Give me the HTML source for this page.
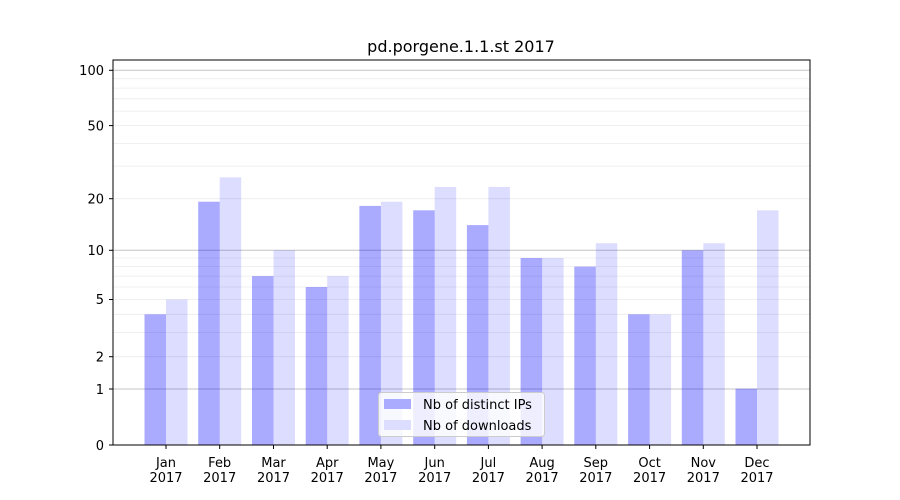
<!DOCTYPE html>
<html><head><meta charset="utf-8"><style>body{margin:0;background:#fff}svg{display:block}text{font-family:"DejaVu Sans","Liberation Sans",sans-serif;fill:#000}</style></head>
<body>
<svg width="900" height="500" xmlns="http://www.w3.org/2000/svg">
<rect width="900" height="500" fill="#fff"/>
<g stroke="#ebebeb" stroke-width="0.8">
<line x1="113" x2="810" y1="356.7" y2="356.7"/><line x1="113" x2="810" y1="332.4" y2="332.4"/><line x1="113" x2="810" y1="314.3" y2="314.3"/><line x1="113" x2="810" y1="299.5" y2="299.5"/><line x1="113" x2="810" y1="287" y2="287"/><line x1="113" x2="810" y1="276.1" y2="276.1"/><line x1="113" x2="810" y1="266.6" y2="266.6"/><line x1="113" x2="810" y1="258" y2="258"/>
<line x1="113" x2="810" y1="198.7" y2="198.7"/><line x1="113" x2="810" y1="166.1" y2="166.1"/><line x1="113" x2="810" y1="143.4" y2="143.4"/><line x1="113" x2="810" y1="125.6" y2="125.6"/><line x1="113" x2="810" y1="111.1" y2="111.1"/><line x1="113" x2="810" y1="98.8" y2="98.8"/><line x1="113" x2="810" y1="88.1" y2="88.1"/><line x1="113" x2="810" y1="78.7" y2="78.7"/>
</g>
<g stroke="#c4c4c4" stroke-width="1">
<line x1="113" x2="810" y1="389" y2="389"/><line x1="113" x2="810" y1="250.3" y2="250.3"/><line x1="113" x2="810" y1="70.3" y2="70.3"/>
</g>
<g fill="#0000ff" fill-opacity="0.333">
<rect x="144.5" y="314.3" width="21.5" height="130.7"/>
<rect x="198.2" y="201.7" width="21.5" height="243.3"/>
<rect x="252" y="276.1" width="21.5" height="168.9"/>
<rect x="305.7" y="287" width="21.5" height="158"/>
<rect x="359.4" y="205.9" width="21.5" height="239.1"/>
<rect x="413.2" y="210.3" width="21.5" height="234.7"/>
<rect x="466.9" y="225.1" width="21.5" height="219.9"/>
<rect x="520.6" y="258" width="21.5" height="187"/>
<rect x="574.3" y="266.6" width="21.5" height="178.4"/>
<rect x="628.1" y="314.3" width="21.5" height="130.7"/>
<rect x="681.8" y="250.3" width="21.5" height="194.7"/>
<rect x="735.5" y="388.7" width="21.5" height="56.3"/>
</g>
<g fill="#0000ff" fill-opacity="0.133">
<rect x="166" y="299.5" width="21.5" height="145.5"/>
<rect x="219.7" y="177.3" width="21.5" height="267.7"/>
<rect x="273.5" y="250.3" width="21.5" height="194.7"/>
<rect x="327.2" y="276.1" width="21.5" height="168.9"/>
<rect x="380.9" y="201.7" width="21.5" height="243.3"/>
<rect x="434.7" y="186.9" width="21.5" height="258.1"/>
<rect x="488.4" y="186.9" width="21.5" height="258.1"/>
<rect x="542.1" y="258" width="21.5" height="187"/>
<rect x="595.8" y="243.2" width="21.5" height="201.8"/>
<rect x="649.6" y="314.3" width="21.5" height="130.7"/>
<rect x="703.3" y="243.2" width="21.5" height="201.8"/>
<rect x="757" y="210.3" width="21.5" height="234.7"/>
</g>
<rect x="113" y="60" width="697" height="385" fill="none" stroke="#000" stroke-width="1"/>
<g stroke="#000" stroke-width="1">
<line x1="109" x2="113" y1="445" y2="445"/><line x1="109" x2="113" y1="389" y2="389"/><line x1="109" x2="113" y1="356.7" y2="356.7"/><line x1="109" x2="113" y1="299.5" y2="299.5"/><line x1="109" x2="113" y1="250.3" y2="250.3"/><line x1="109" x2="113" y1="198.7" y2="198.7"/><line x1="109" x2="113" y1="125.6" y2="125.6"/><line x1="109" x2="113" y1="70.3" y2="70.3"/>
</g>
<g font-size="13" text-anchor="end">
<text x="104" y="450">0</text><text x="104" y="394">1</text><text x="104" y="361.5">2</text><text x="104" y="304">5</text><text x="104" y="255">10</text><text x="104" y="203.5">20</text><text x="104" y="130.5">50</text><text x="104" y="75">100</text>
</g>
<g stroke="#000">
<line x1="166" x2="166" y1="445" y2="449"/><line x1="219.7" x2="219.7" y1="445" y2="449"/><line x1="273.5" x2="273.5" y1="445" y2="449"/><line x1="327.2" x2="327.2" y1="445" y2="449"/><line x1="380.9" x2="380.9" y1="445" y2="449"/><line x1="434.7" x2="434.7" y1="445" y2="449"/><line x1="488.4" x2="488.4" y1="445" y2="449"/><line x1="542.1" x2="542.1" y1="445" y2="449"/><line x1="595.8" x2="595.8" y1="445" y2="449"/><line x1="649.6" x2="649.6" y1="445" y2="449"/><line x1="703.3" x2="703.3" y1="445" y2="449"/><line x1="757" x2="757" y1="445" y2="449"/>
</g>
<g font-size="13" text-anchor="middle">
<text x="166" y="467">Jan</text><text x="219.7" y="467">Feb</text><text x="273.5" y="467">Mar</text><text x="327.2" y="467">Apr</text><text x="380.9" y="467">May</text><text x="434.7" y="467">Jun</text><text x="488.4" y="467">Jul</text><text x="542.1" y="467">Aug</text><text x="595.8" y="467">Sep</text><text x="649.6" y="467">Oct</text><text x="703.3" y="467">Nov</text><text x="757" y="467">Dec</text>
<text x="166" y="482">2017</text><text x="219.7" y="482">2017</text><text x="273.5" y="482">2017</text><text x="327.2" y="482">2017</text><text x="380.9" y="482">2017</text><text x="434.7" y="482">2017</text><text x="488.4" y="482">2017</text><text x="542.1" y="482">2017</text><text x="595.8" y="482">2017</text><text x="649.6" y="482">2017</text><text x="703.3" y="482">2017</text><text x="757" y="482">2017</text>
</g>
<text x="461" y="52" font-size="16" text-anchor="middle">pd.porgene.1.1.st 2017</text>
<rect x="378.5" y="392.5" width="166" height="44" rx="3" fill="#fff" fill-opacity="0.8" stroke="#ccc"/>
<rect x="384" y="399" width="27" height="10" fill="#aaaaff"/>
<rect x="384" y="420" width="27" height="10" fill="#ddddff"/>
<text x="423" y="409" font-size="13">Nb of distinct IPs</text>
<text x="423" y="430" font-size="13">Nb of downloads</text>
</svg>
</body></html>
